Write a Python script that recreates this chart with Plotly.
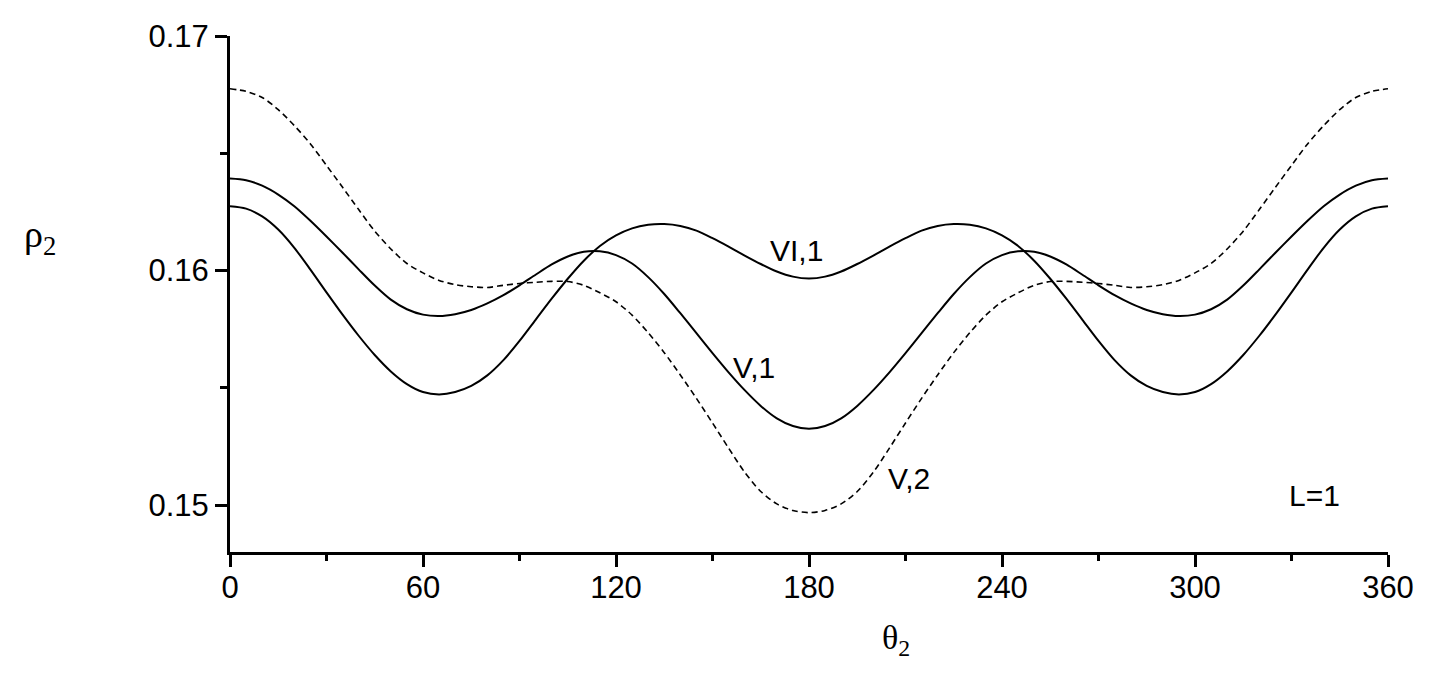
import plotly.graph_objects as go

# Winkel theta_2 in Grad
theta = list(range(0, 361, 5))

# rho_2 fuer die drei Zustaende (alle 5 Grad)
rho_v1 = [0.16392, 0.16385, 0.16362, 0.16324, 0.16274, 0.16212, 0.16145, 0.16076, 0.16005, 0.15936,
          0.15876, 0.15835, 0.15812, 0.15806, 0.15814, 0.15832, 0.15860, 0.15895, 0.15937, 0.15982,
          0.16026, 0.16060, 0.16080, 0.16082, 0.16066, 0.16030, 0.15972, 0.15900, 0.15818, 0.15733,
          0.15648, 0.15566, 0.15490, 0.15423, 0.15370, 0.15337, 0.15325,
          0.15337, 0.15370, 0.15423, 0.15490, 0.15566, 0.15648, 0.15733, 0.15818, 0.15900, 0.15972,
          0.16030, 0.16066, 0.16082, 0.16080, 0.16060, 0.16026, 0.15982, 0.15937, 0.15895, 0.15860,
          0.15832, 0.15814, 0.15806, 0.15812, 0.15835, 0.15876, 0.15936, 0.16005, 0.16076, 0.16145,
          0.16212, 0.16274, 0.16324, 0.16362, 0.16385, 0.16392]
rho_vi1 = [0.16274, 0.16264, 0.16231, 0.16175, 0.16097, 0.16004, 0.15907, 0.15812, 0.15722, 0.15640,
           0.15570, 0.15516, 0.15482, 0.15472, 0.15482, 0.15508, 0.15553, 0.15618, 0.15700, 0.15790,
           0.15880, 0.15965, 0.16042, 0.16105, 0.16150, 0.16180, 0.16195, 0.16198, 0.16190, 0.16170,
           0.16138, 0.16102, 0.16064, 0.16028, 0.15996, 0.15974, 0.15966,
           0.15974, 0.15996, 0.16028, 0.16064, 0.16102, 0.16138, 0.16170, 0.16190, 0.16198, 0.16195,
           0.16180, 0.16150, 0.16105, 0.16042, 0.15965, 0.15880, 0.15790, 0.15700, 0.15618, 0.15553,
           0.15508, 0.15482, 0.15472, 0.15482, 0.15516, 0.15570, 0.15640, 0.15722, 0.15812, 0.15907,
           0.16004, 0.16097, 0.16175, 0.16231, 0.16264, 0.16274]
rho_v2 = [0.16775, 0.16764, 0.16738, 0.16686, 0.16618, 0.16540, 0.16448, 0.16355, 0.16260, 0.16168,
          0.16092, 0.16030, 0.15990, 0.15958, 0.15940, 0.15931, 0.15928, 0.15937, 0.15945, 0.15950,
          0.15954, 0.15953, 0.15937, 0.15905, 0.15867, 0.15810, 0.15735, 0.15650, 0.15555, 0.15455,
          0.15350, 0.15243, 0.15140, 0.15058, 0.15005, 0.14977, 0.14968,
          0.14977, 0.15005, 0.15058, 0.15140, 0.15243, 0.15350, 0.15455, 0.15555, 0.15650, 0.15735,
          0.15810, 0.15867, 0.15905, 0.15937, 0.15953, 0.15954, 0.15950, 0.15945, 0.15937, 0.15928,
          0.15931, 0.15940, 0.15958, 0.15990, 0.16030, 0.16092, 0.16168, 0.16260, 0.16355, 0.16448,
          0.16540, 0.16618, 0.16686, 0.16738, 0.16764, 0.16775]

# Beschriftungen an den Kurven
labels = ['VI,1', 'V,1', 'V,2', 'L=1']
label_x = [176.2, 162.9, 211.0, 337.0]
label_y = [0.16087, 0.15585, 0.15115, 0.15043]

fig = go.Figure()
fig.add_trace(go.Scatter(x=theta, y=rho_v1, mode='lines', name='V,1',
                         line=dict(color='black', width=2, shape='spline', smoothing=0.8)))
fig.add_trace(go.Scatter(x=theta, y=rho_vi1, mode='lines', name='VI,1',
                         line=dict(color='black', width=2, shape='spline', smoothing=0.8)))
fig.add_trace(go.Scatter(x=theta, y=rho_v2, mode='lines', name='V,2',
                         line=dict(color='black', width=1.6, shape='spline', smoothing=0.8,
                                   dash='6px,4px')))

for t, xx, yy in zip(labels, label_x, label_y):
    fig.add_annotation(x=xx, y=yy, text=t, showarrow=False,
                       font=dict(family='Liberation Sans, Arial', size=30, color='black'))

# Achsentitel
fig.add_annotation(xref='paper', yref='paper', x=-0.18, y=0.61, text='ρ<sub>2</sub>',
                   showarrow=False, font=dict(family='Liberation Serif', size=38, color='black'))
fig.add_annotation(xref='paper', yref='paper', x=0.575, y=-0.215, text='θ<sub>2</sub>',
                   showarrow=False, font=dict(family='Liberation Serif', size=34, color='black'))

fig.update_xaxes(range=[0, 360], tickvals=[0, 60, 120, 180, 240, 300, 360],
                 showline=True, linecolor='black', linewidth=3, mirror=False,
                 ticks='outside', ticklen=12, tickwidth=3, tickcolor='black',
                 ticklabelstandoff=-6,
                 minor=dict(tickvals=[30, 90, 150, 210, 270, 330], ticks='outside',
                            ticklen=6, tickwidth=3, tickcolor='black'),
                 showgrid=False, zeroline=False,
                 tickfont=dict(family='Liberation Sans, Arial', size=31, color='black'))
fig.update_yaxes(range=[0.148, 0.17], tickvals=[0.15, 0.16, 0.17], tickformat='.2f',
                 showline=True, linecolor='black', linewidth=3, mirror=False,
                 ticks='outside', ticklen=12, tickwidth=3, tickcolor='black',
                 minor=dict(tickvals=[0.155, 0.165], ticks='outside',
                            ticklen=7, tickwidth=3, tickcolor='black'),
                 showgrid=False, zeroline=False,
                 tickfont=dict(family='Liberation Sans, Arial', size=31, color='black'))

# Koerperrand der Seite (8px) abziehen, damit die Achsen wie im Original liegen
fig.update_layout(width=1442, height=694, showlegend=False,
                  plot_bgcolor='white', paper_bgcolor='white',
                  margin=dict(l=222, r=62, t=28, b=150))

fig.write_html("out.html")
